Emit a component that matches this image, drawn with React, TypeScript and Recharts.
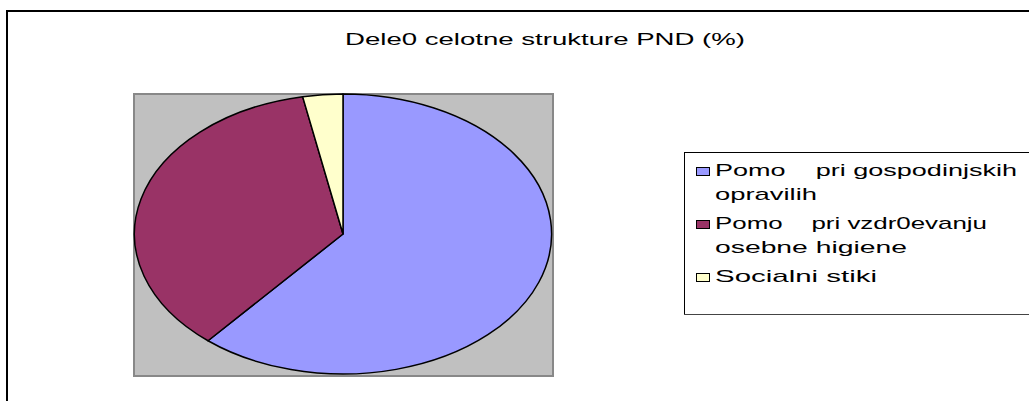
import React from "react";
import { PieChart, Pie, Cell, Legend } from "recharts";

const categories = [
  "Pomo\u00a0\u00a0\u00a0\u00a0pri gospodinjskih opravilih",
  "Pomo\u00a0\u00a0\u00a0\u00a0pri vzdr0evanju osebne higiene",
  "Socialni stiki",
];
const values = [61.2, 35.7, 3.1];
const colors = ["#9999FF", "#993366", "#FFFFCC"];
const legendLines = [
  ["Pomo\u00a0\u00a0\u00a0\u00a0pri gospodinjskih", "opravilih"],
  ["Pomo\u00a0\u00a0\u00a0\u00a0pri vzdr0evanju", "osebne higiene"],
  ["Socialni stiki"],
];
const legendLineWidths = [
  [302, 102],
  [272, 192],
  [162],
];
const title = "Dele0 celotne strukture PND (%)";

const data = categories.map((name, i) => ({ name, value: values[i] }));

const X_STRETCH = 1.49;
const FONT = "'Liberation Sans', Arial, sans-serif";

const EllipseSector = (props: any) => {
  const { cx, cy, outerRadius, startAngle, endAngle, fill } = props;
  const ry = outerRadius;
  const rx = outerRadius * X_STRETCH;
  const rad = Math.PI / 180;
  const x1 = cx + rx * Math.cos(startAngle * rad);
  const y1 = cy - ry * Math.sin(startAngle * rad);
  const x2 = cx + rx * Math.cos(endAngle * rad);
  const y2 = cy - ry * Math.sin(endAngle * rad);
  const large = Math.abs(startAngle - endAngle) > 180 ? 1 : 0;
  const sweep = startAngle > endAngle ? 1 : 0;
  return (
    <path
      d={`M${cx},${cy} L${x1},${y1} A${rx},${ry} 0 ${large} ${sweep} ${x2},${y2} Z`}
      fill={fill}
      stroke="#000"
      strokeWidth={1.5}
      strokeLinejoin="round"
    />
  );
};

const LEG_LEFT = 684;
const LEG_TOP = 152;
const baselines = [
  [176, 200],
  [229, 253],
  [282],
];

const renderLegend = () => (
  <svg width={345} height={164} style={{ display: "block" }}>
    <rect x={0.5} y={0.5} width={400} height={162} fill="#fff" stroke="#000" strokeWidth={1} />
    <line x1={0} y1={162.5} x2={345} y2={162.5} stroke="#444" strokeWidth={1} />
    {categories.map((c, i) => (
      <g key={c}>
        <rect
          x={12.5}
          y={baselines[i][0] - 9 - LEG_TOP + 0.5}
          width={13}
          height={8}
          fill={colors[i]}
          stroke="#000"
          strokeWidth={1}
        />
        {legendLines[i].map((ln, j) => (
          <text
            key={j}
            x={31}
            y={baselines[i][j] - LEG_TOP}
            fontFamily={FONT}
            fontSize={17}
            fill="#000"
            textLength={legendLineWidths[i][j]}
            lengthAdjust="spacingAndGlyphs"
          >
            {ln}
          </text>
        ))}
      </g>
    ))}
  </svg>
);

export default function App() {
  return (
    <div
      style={{
        position: "absolute",
        left: 0,
        top: 0,
        width: 1029,
        height: 401,
        overflow: "hidden",
        background: "#fff",
      }}
    >
      <div
        style={{
          position: "absolute",
          left: 6,
          top: 10,
          width: 1100,
          height: 500,
          border: "2px solid #000",
        }}
      />
      <div
        style={{
          position: "absolute",
          left: 133,
          top: 93,
          width: 417,
          height: 280,
          background: "#C0C0C0",
          border: "2px solid #888",
        }}
      />
      <svg
        width={1029}
        height={60}
        style={{ position: "absolute", left: 0, top: 0 }}
      >
        <text
          x={345}
          y={45}
          fontFamily={FONT}
          fontSize={17}
          fill="#000"
          textLength={400}
          lengthAdjust="spacingAndGlyphs"
        >
          {title}
        </text>
      </svg>
      <div style={{ position: "absolute", left: 0, top: 0 }}>
        <PieChart width={1029} height={401} margin={{ top: 0, right: 0, bottom: 0, left: 0 }}>
          <Pie
            data={data}
            dataKey="value"
            nameKey="name"
            cx={343}
            cy={234}
            outerRadius={140}
            startAngle={90}
            endAngle={-270}
            stroke="#000"
            shape={EllipseSector}
            isAnimationActive={false}
          >
            {data.map((d, i) => (
              <Cell key={d.name} fill={colors[i]} />
            ))}
          </Pie>
          <Legend
            layout="vertical"
            align="right"
            verticalAlign="middle"
            content={renderLegend}
            wrapperStyle={{ position: "absolute", left: LEG_LEFT, top: LEG_TOP, width: 345, height: 164 }}
          />
        </PieChart>
      </div>
    </div>
  );
}
